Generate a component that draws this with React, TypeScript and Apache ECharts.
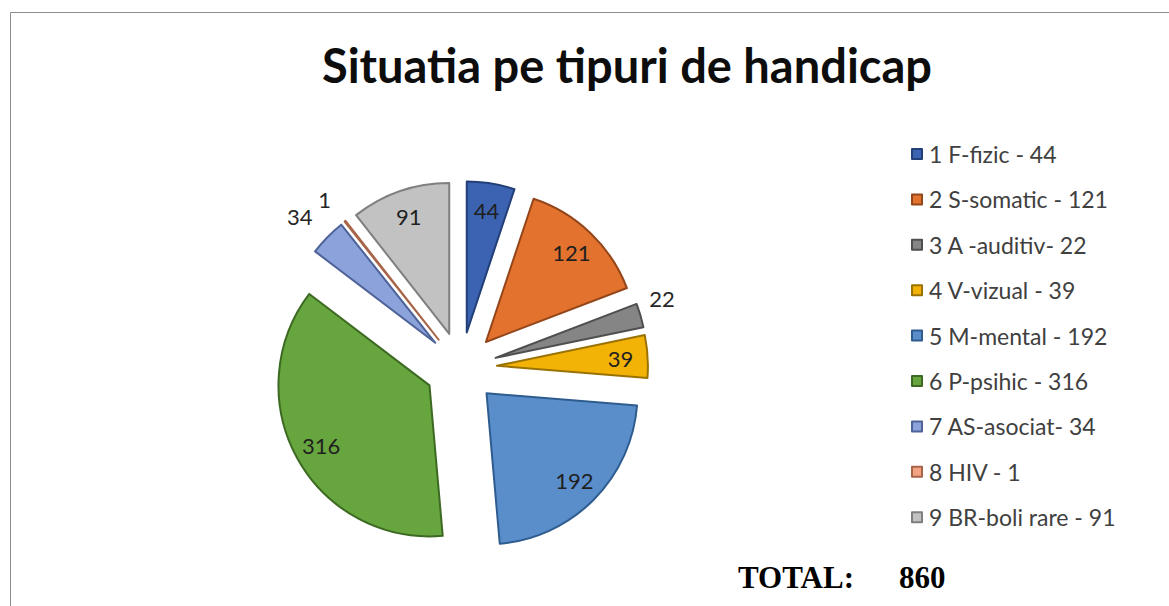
import React, { useEffect, useRef } from 'react';
import * as echarts from 'echarts';

const titleText = 'Situatia pe tipuri de handicap';
const categories = [
  '1 F-fizic - 44',
  '2 S-somatic - 121',
  '3 A -auditiv- 22',
  '4 V-vizual - 39',
  '5 M-mental - 192',
  '6 P-psihic - 316',
  '7 AS-asociat- 34',
  '8 HIV - 1',
  '9 BR-boli rare - 91',
];
const values = [44, 121, 22, 39, 192, 316, 34, 1, 91];
const colors = ['#3B63B2', '#E2722E', '#858585', '#F2B306', '#5A8ECB', '#67A63F', '#8BA2DB', '#F3A282', '#C2C2C2'];
const borderColors = ['#223F78', '#93461A', '#4F4F4F', '#9A7204', '#2F5C8F', '#3D6A22', '#4E6298', '#A86448', '#7F7F7F'];
const outsideLabelNames = ['3 A -auditiv- 22', '7 AS-asociat- 34', '8 HIV - 1'];
const totalLabel = 'TOTAL:';

const CX = 461;
const CY = 368;
const R = 151;
const OFFSET = 36;
const LABEL_FONT = 'Lato, "Noto Sans", sans-serif';

export default function App() {
  const ref = useRef<HTMLDivElement>(null);
  useEffect(() => {
    if (!ref.current) return;
    const chart = echarts.init(ref.current, undefined, { renderer: 'svg' });
    const total = values.reduce((a, b) => a + b, 0);
    const visibleData = values.map((v, i) => {
      const st = { color: colors[i], borderColor: borderColors[i], borderWidth: 2 };
      return {
        name: categories[i],
        value: v,
        selected: true,
        itemStyle: st,
        select: { itemStyle: st },
        emphasis: { itemStyle: st },
        label: { show: outsideLabelNames.includes(categories[i]) },
      };
    });
    const labelData = values.map((v, i) => ({
      name: categories[i],
      value: v,
      selected: true,
      label: { show: !outsideLabelNames.includes(categories[i]) },
    }));
    chart.setOption({
      animation: false,
      backgroundColor: '#ffffff',
      legend: {
        orient: 'vertical',
        left: 906,
        top: 137,
        itemWidth: 10,
        itemHeight: 10,
        itemGap: 21.4,
        icon: 'rect',
        data: categories,
        selectedMode: false,
        textStyle: { fontFamily: LABEL_FONT, fontSize: 23, color: '#404040', lineHeight: 24, padding: [0, 0, 0, 2] },
      },
      graphic: [
        {
          type: 'rect',
          shape: { x: 10.5, y: 12.5, width: 1200, height: 620 },
          style: { fill: 'none', stroke: '#8c8c8c', lineWidth: 1 },
          silent: true,
        },
        {
          type: 'text',
          x: 627,
          y: 65,
          style: {
            text: titleText,
            align: 'center',
            verticalAlign: 'middle',
            font: 'bold 47px Lato, "Noto Sans", sans-serif',
            fill: '#0d0d0d',
          },
        },
        {
          type: 'text',
          x: 738,
          y: 577,
          style: {
            text: totalLabel,
            align: 'left',
            verticalAlign: 'middle',
            font: 'bold 31px "Liberation Serif", "Times New Roman", serif',
            fill: '#000000',
          },
        },
        {
          type: 'text',
          x: 899,
          y: 577,
          style: {
            text: String(total),
            align: 'left',
            verticalAlign: 'middle',
            font: 'bold 31px "Liberation Serif", "Times New Roman", serif',
            fill: '#000000',
          },
        },
      ],
      series: [
        {
          type: 'pie',
          name: 'visible',
          center: [CX, CY],
          radius: R,
          startAngle: 90,
          clockwise: true,
          selectedMode: 'multiple',
          selectedOffset: OFFSET,
          avoidLabelOverlap: false,
          minAngle: 0,
          label: {
            position: 'outside',
            formatter: '{c}',
            fontFamily: LABEL_FONT,
            fontSize: 22,
            color: '#262626',
          },
          labelLine: { show: false, length: 8, length2: 4 },
          labelLayout: (params: any) => ({ dy: -15, dx: params.align === 'left' ? -8 : 0 }),
          emphasis: { disabled: true },
          data: visibleData,
        },
        {
          type: 'pie',
          name: 'labels',
          center: [CX, CY],
          radius: R * 1.6,
          startAngle: 90,
          clockwise: true,
          selectedMode: 'multiple',
          selectedOffset: OFFSET,
          avoidLabelOverlap: false,
          silent: true,
          z: 5,
          itemStyle: { color: 'rgba(0,0,0,0)', borderWidth: 0 },
          select: { itemStyle: { color: 'rgba(0,0,0,0)', borderWidth: 0 } },
          label: {
            position: 'inside',
            formatter: '{c}',
            fontFamily: LABEL_FONT,
            fontSize: 22,
            color: '#1f1f1f',
          },
          labelLine: { show: false },
          emphasis: { disabled: true },
          data: labelData,
        },
      ],
    });
    return () => chart.dispose();
  }, []);
  return (
    <div
      ref={ref}
      style={{ position: 'fixed', left: 0, top: 0, width: 1169, height: 606, background: '#fff' }}
    />
  );
}
